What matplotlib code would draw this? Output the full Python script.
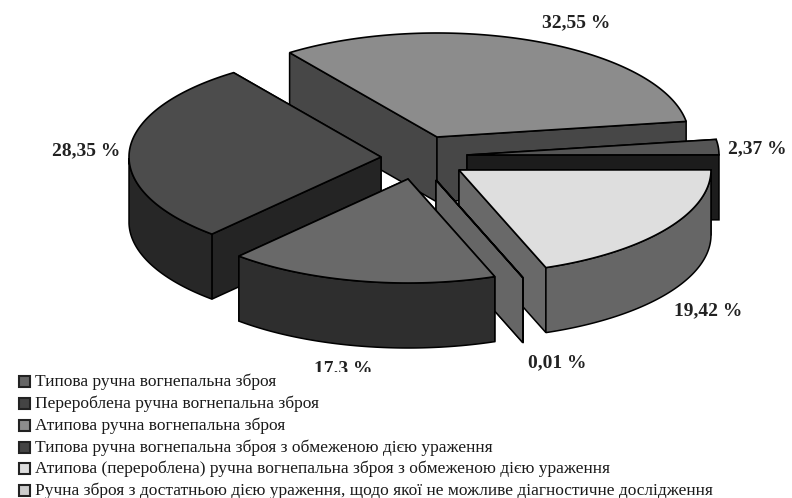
import numpy as np
import matplotlib
matplotlib.use('Agg')
import matplotlib.pyplot as plt
from matplotlib.patches import Rectangle

# clockwise from the back-left edge of the big grey slice
values = [32.55, 2.37, 19.42, 0.01, 17.3, 28.35]
labels = ['32,55 %', '2,37 %', '19,42 %', '0,01 %', '17.3 %', '28,35 %']
top_colors = ['#8c8c8c', '#555555', '#dedede', '#666666', '#696969', '#4c4c4c']
wall_colors = ['#474747', '#1c1c1c', '#696969', '#666666', '#2e2e2e', '#242424']
rim_colors = ['#474747', '#1c1c1c', '#666666', '#666666', '#2e2e2e', '#272727']
# exploded position of each slice's apex, in pixels
apex_x = [437, 467, 459, 436, 408, 381]
apex_y = [137, 155, 170, 180, 179, 157]
label_x = [576, 757, 708, 557, 343, 86]
label_y = [23, 149, 311, 363, 369, 151]
draw_order = [0, 5, 1, 2, 3, 4]

legend_text = [
    'Типова ручна вогнепальна зброя',
    'Перероблена ручна вогнепальна зброя',
    'Атипова ручна вогнепальна зброя',
    'Типова ручна вогнепальна зброя з обмеженою дією ураження',
    'Атипова (перероблена) ручна вогнепальна зброя з обмеженою дією ураження',
    'Ручна зброя з достатньою дією ураження, щодо якої не можливе діагностичне дослідження',
]
legend_colors = ['#666666', '#444444', '#8c8c8c', '#444444', '#dddddd', '#cccccc']
legend_y = [381, 403, 425, 447, 468, 490]

RX, RY, DEPTH = 252, 104, 65
START = 125.8

fig = plt.figure(figsize=(7.92, 4.98), dpi=100)
ax = fig.add_axes([0, 0, 1, 1])
ax.set_xlim(0, 792)
ax.set_ylim(498, 0)
ax.axis('off')

ends = START - np.cumsum(values) * 3.6
starts = np.concatenate([[START], ends[:-1]])


def rim(cx, cy, t):
    r = np.radians(t)
    return cx + RX * np.cos(r), cy - RY * np.sin(r)


for i in draw_order:
    cx, cy = apex_x[i], apex_y[i]
    t = np.linspace(starts[i], ends[i], 120)
    xs, ys = rim(cx, cy, t)

    # radial walls, the one nearer the viewer goes on top
    edges = sorted((starts[i], ends[i]), key=lambda e: rim(cx, cy, e)[1])
    for edge in edges:
        ex, ey = rim(cx, cy, edge)
        ax.fill([cx, ex, ex, cx], [cy, ey, ey + DEPTH, cy + DEPTH],
                facecolor=wall_colors[i], edgecolor='black', lw=1.1)

    front = np.sin(np.radians(t)) <= 0
    if front.sum() > 1:
        fx, fy = xs[front], ys[front]
        ax.fill(np.r_[fx, fx[::-1]], np.r_[fy, fy[::-1] + DEPTH],
                facecolor=rim_colors[i], edgecolor='black', lw=1.1)

    ax.fill(np.r_[cx, xs], np.r_[cy, ys],
            facecolor=top_colors[i], edgecolor='black', lw=1.2)

for i in range(len(labels)):
    ax.text(label_x[i], label_y[i], labels[i], family='Liberation Serif',
            fontweight='bold', fontsize=14, color='#222222',
            ha='center', va='center')

# the lower label is cut off by the legend block in the original
ax.add_patch(Rectangle((0, 372), 480, 126, facecolor='white', edgecolor='none', zorder=3))

for name, c, y in zip(legend_text, legend_colors, legend_y):
    ax.add_patch(Rectangle((18.5, y - 5.5), 11, 11, facecolor=c, edgecolor='#222222',
                           lw=1.5, zorder=4))
    ax.text(35, y + 1, name, family='Liberation Serif', fontsize=12.5, color='#1a1a1a',
            ha='left', va='center', zorder=4)

fig.savefig('out.png', dpi=100)
